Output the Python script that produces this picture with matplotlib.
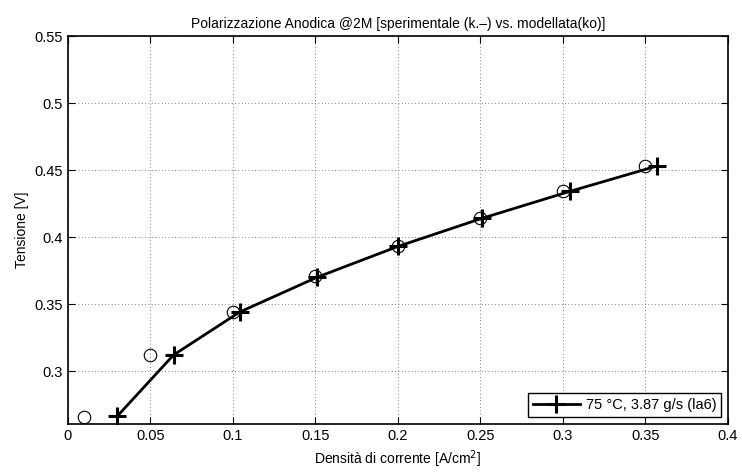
import matplotlib
matplotlib.use("Agg")
import matplotlib.pyplot as plt

plt.rcParams["font.family"] = ["Liberation Sans", "DejaVu Sans"]

# experimental points (circles)
x_exp = [0.01, 0.05, 0.10, 0.15, 0.20, 0.25, 0.30, 0.35]
v_exp = [0.266, 0.312, 0.344, 0.371, 0.393, 0.414, 0.434, 0.453]

# model curve (crosses)
x_mod = [0.030, 0.064, 0.104, 0.151, 0.200, 0.251, 0.304, 0.357]
v_mod = [0.2665, 0.312, 0.344, 0.370, 0.393, 0.414, 0.434, 0.453]

xticks = [0, 0.05, 0.1, 0.15, 0.2, 0.25, 0.3, 0.35, 0.4]
yticks = [0.3, 0.35, 0.4, 0.45, 0.5, 0.55]

fig = plt.figure(figsize=(7.42, 4.74), dpi=100)
ax = fig.add_axes([0.0916, 0.1055, 0.8894, 0.8185])

ax.plot(x_exp, v_exp, "o", mfc="none", mec="black", ms=9, mew=0.8)
ax.plot(x_mod, v_mod, "-+", color="black", lw=2, ms=13, mew=2.2,
        label="75 °C, 3.87 g/s (la6)")

ax.set_xlim(0, 0.4)
ax.set_ylim(0.2605, 0.55)
ax.set_xticks(xticks)
ax.set_xticklabels(["0", "0.05", "0.1", "0.15", "0.2", "0.25", "0.3", "0.35", "0.4"])
ax.set_yticks(yticks)
ax.set_yticklabels(["0.3", "0.35", "0.4", "0.45", "0.5", "0.55"])
ax.tick_params(direction="in", top=True, right=True, labelsize=10.5, length=5, width=0.8)
ax.grid(True, linestyle=(0, (1, 3)), color="#555555", lw=0.6)
for s in ax.spines.values():
    s.set_linewidth(1.2)

ax.set_xlabel("Densità di corrente [A/cm$^2$]", fontsize=10)
ax.set_ylabel("Tensione [V]", fontsize=10)
ax.set_title("Polarizzazione Anodica @2M [sperimentale (k.\u2013) vs. modellata(ko)]", fontsize=10)

leg = ax.legend(loc="lower right", fancybox=False, edgecolor="black", fontsize=10.5,
                handlelength=3.2, borderaxespad=0.45, borderpad=0.35,
                handletextpad=0.4, framealpha=1)
leg.get_frame().set_linewidth(1.0)

fig.savefig("out.png", dpi=100)
